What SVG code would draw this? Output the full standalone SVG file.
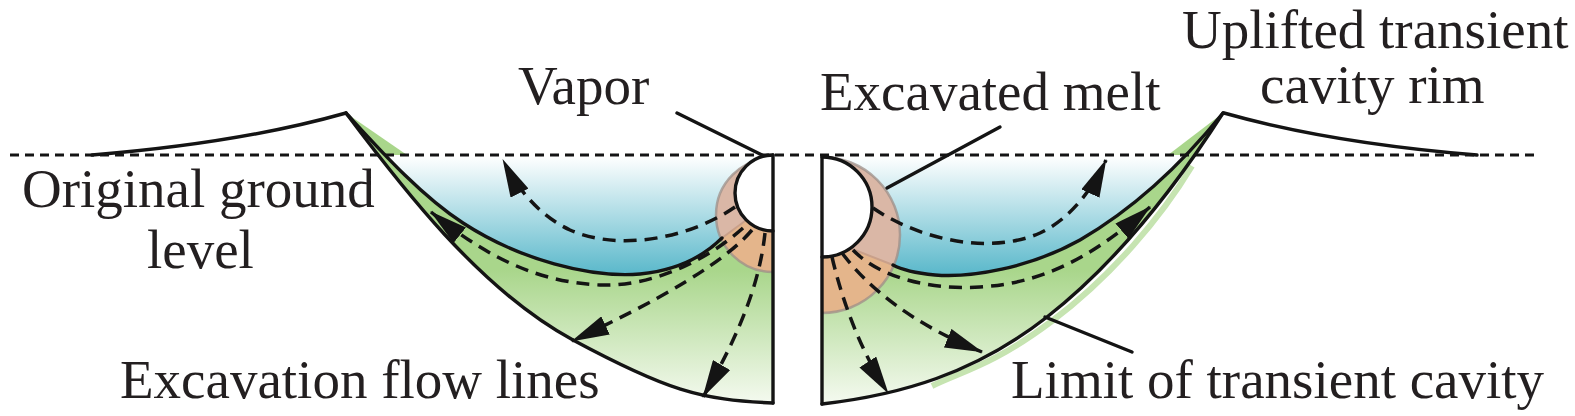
<svg xmlns="http://www.w3.org/2000/svg" width="1575" height="416" viewBox="0 0 1575 416">
<style>
.lbl{font-family:"Liberation Serif","Times New Roman",serif;font-size:55px;fill:#231f20}
.ln{fill:none;stroke:#141414;stroke-width:3.4;stroke-linecap:round;stroke-linejoin:round}
.flow{fill:none;stroke:#141414;stroke-width:3.5;stroke-dasharray:13 8;marker-end:url(#arr)}
.ground{fill:none;stroke:#141414;stroke-width:3;stroke-dasharray:9 6}
.meltedge{fill:none;stroke:#9e8f88;stroke-width:2.5;stroke-opacity:.75}
</style>
<defs>
<linearGradient id="blue" gradientUnits="userSpaceOnUse" x1="0" y1="156" x2="0" y2="278">
<stop offset="0" stop-color="#ffffff"/>
<stop offset="1" stop-color="#55b6c9"/>
</linearGradient>
<linearGradient id="green" gradientUnits="userSpaceOnUse" x1="0" y1="270" x2="0" y2="408">
<stop offset="0" stop-color="#a9d68b"/>
<stop offset="1" stop-color="#f7fbf3"/>
</linearGradient>
<clipPath id="below"><rect x="0" y="155" width="1575" height="261"/></clipPath>
<clipPath id="belowInnerL"><path d="M346,113 C380,150 420,195 463,223 C520,260 590,278 640,274 C680,270 705,255 722,238 L745,221 L790,205 L790,416 L300,416 Z"/></clipPath>
<clipPath id="belowInnerR"><path d="M1223,113 C1185,160 1140,205 1080,240 C1030,268 970,278 935,275 C915,273 902,270 893,265 L837,243 L810,236 L810,416 L1300,416 Z"/></clipPath>
<marker id="arr" viewBox="0 0 38 20" refX="37" refY="10" markerWidth="38" markerHeight="20" markerUnits="userSpaceOnUse" orient="auto">
<path d="M0,0 L38,10 L0,20 Z" fill="#141414"/>
</marker>
</defs>

<g id="left-cavity">
<path d="M346,113 C400,185 480,290 573,340 S700,400 773,403 L773,113 Z" fill="url(#green)" clip-path="url(#below)"/>
<path d="M346,113 L407,155 L380,155 Z" fill="#a9d68b"/>
<path d="M346,113 C380,150 420,195 463,223 C520,260 590,278 640,274 C680,270 705,255 722,238 L773,222 L773,113 Z" fill="url(#blue)" clip-path="url(#below)"/>
<path d="M773,158 A57,57 0 0 0 773,272 Z" fill="#dab7a6"/>
<path d="M773,158 A57,57 0 0 0 773,272 Z" fill="#e4b58b" clip-path="url(#belowInnerL)"/>
<path d="M745,221 L722,238" stroke="#c9a08a" stroke-width="2" fill="none"/>
<path d="M773,158 A57,57 0 0 0 773,272" class="meltedge"/>
<path d="M773,155 A38,38 0 0 0 773,231 Z" fill="#ffffff"/>
<path d="M773,155 A38,38 0 0 0 773,231" class="ln"/>
<path d="M92,155 Q240,143 346,113" class="ln"/>
<path d="M346,113 C400,185 480,290 573,340 S700,400 773,403" class="ln"/>
<path d="M346,113 C380,150 420,195 463,223 C520,260 590,278 640,274 C680,270 705,255 722,238" class="ln"/>
<path d="M773,155 L773,403" class="ln"/>
</g>

<g id="right-cavity">
<path d="M1190,165 C1160,215 1110,275 1050,320 S960,370 930,385" fill="none" stroke="#c6e4b1" stroke-width="6" transform="translate(2,1)"/>
<path d="M1223,113 C1180,180 1120,260 1047,317 S900,395 822,404 L822,113 Z" fill="url(#green)" clip-path="url(#below)"/>
<path d="M1223,113 L1168,155 L1194,155 Z" fill="#a9d68b"/>
<path d="M1223,113 C1185,160 1140,205 1080,240 C1030,268 970,278 935,275 C915,273 902,270 893,265 L822,240 L822,113 Z" fill="url(#blue)" clip-path="url(#below)"/>
<path d="M822,157 A78,78 0 0 1 822,313 Z" fill="#dab7a6"/>
<path d="M822,157 A78,78 0 0 1 822,313 Z" fill="#e4b58b" clip-path="url(#belowInnerR)"/>
<path d="M837,243 L893,265" stroke="#c9a08a" stroke-width="2" fill="none"/>
<path d="M822,157 A78,78 0 0 1 822,313" class="meltedge"/>
<path d="M822,157 A50,50 0 0 1 822,257 Z" fill="#ffffff"/>
<path d="M822,157 A50,50 0 0 1 822,257" class="ln"/>
<path d="M1224,113 Q1330,143 1477,155" class="ln"/>
<path d="M1223,113 C1180,180 1120,260 1047,317 S900,395 822,404" class="ln"/>
<path d="M1223,113 C1185,160 1140,205 1080,240 C1030,268 970,278 935,275 C915,273 902,270 893,265" class="ln"/>
<path d="M822,157 L822,404" class="ln"/>
</g>

<g id="ground-level">
<path d="M10,155 L1535,155" class="ground"/>
</g>

<g id="connectors">
<path d="M677,113 L762,155" class="ln"/>
<path d="M1000,127 L887,188" class="ln"/>
<path d="M1045,317 L1132,352" class="ln"/>
<path d="M735,207 C690,238 620,252 570,230 C540,216 518,190 503,160" class="flow"/>
<path d="M743,228 C705,262 650,287 600,285 C530,282 478,250 431,212" class="flow"/>
<path d="M752,230 C725,262 660,300 572,341" class="flow"/>
<path d="M765,233 C760,280 742,330 703,397" class="flow"/>
<path d="M873,208 C920,240 990,255 1040,233 C1070,219 1092,190 1106,160" class="flow"/>
<path d="M853,250 C880,278 930,290 980,287 C1050,283 1100,250 1150,207" class="flow"/>
<path d="M842,253 C870,290 915,325 982,352" class="flow"/>
<path d="M832,257 C842,300 860,350 888,393" class="flow"/>
</g>

<g id="label-vapor"><text class="lbl" x="518" y="104">Vapor</text></g>
<g id="label-ground"><text class="lbl" x="22" y="207">Original ground</text><text class="lbl" x="147" y="268">level</text></g>
<g id="label-flow"><text class="lbl" x="120" y="398">Excavation flow lines</text></g>
<g id="label-melt"><text class="lbl" x="820" y="110">Excavated melt</text></g>
<g id="label-rim"><text class="lbl" x="1182" y="48">Uplifted transient</text><text class="lbl" x="1260" y="103">cavity rim</text></g>
<g id="label-limit"><text class="lbl" x="1011" y="398">Limit of transient cavity</text></g>
</svg>
